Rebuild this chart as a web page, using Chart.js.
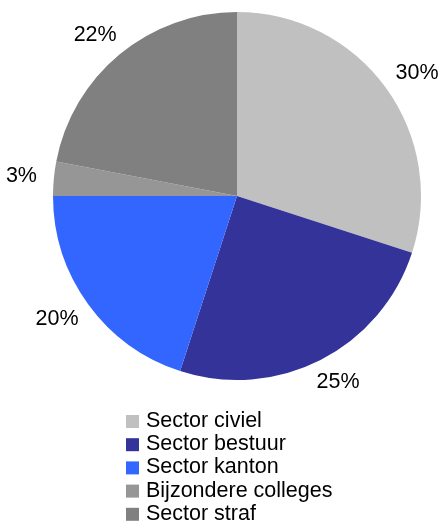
<!DOCTYPE html>
<html>
<head>
<meta charset="utf-8">
<script src="https://cdn.jsdelivr.net/npm/chart.js@4"></script>
<style>
  html, body { margin: 0; padding: 0; background: #fff; }
  canvas { display: block; }
</style>
</head>
<body>
<canvas id="pie" width="438" height="525"></canvas>
<script>
  // Verdeling per sector
  const sectors = ['Sector civiel', 'Sector bestuur', 'Sector kanton', 'Bijzondere colleges', 'Sector straf'];
  const shares = [30, 25, 20, 3, 22];
  const sliceColors = ['#c0c0c0', '#333399', '#3366ff', '#969696', '#808080'];

  const fontFamily = '"Liberation Sans", Arial, sans-serif';

  // Percentage labels just outside each slice
  const outsideLabels = {
    id: 'outsideLabels',
    afterDatasetsDraw(chart) {
      const ctx = chart.ctx;
      const meta = chart.getDatasetMeta(0);
      ctx.save();
      ctx.font = '21.5px ' + fontFamily;
      ctx.fillStyle = '#000';
      ctx.textAlign = 'center';
      ctx.textBaseline = 'middle';
      meta.data.forEach((arc, i) => {
        const p = arc.getProps(['x', 'y', 'startAngle', 'endAngle', 'outerRadius'], true);
        const mid = (p.startAngle + p.endAngle) / 2;
        const text = shares[i] + '%';
        const w = ctx.measureText(text).width;
        const h = 16;
        const r0 = p.outerRadius + 17;
        const cx = p.x + Math.cos(mid) * (r0 + w / 2);
        const cy = p.y + Math.sin(mid) * (r0 + h / 2);
        ctx.fillText(text, cx, cy);
      });
      ctx.restore();
    }
  };

  // Vertical legend under the pie
  const stackedLegend = {
    id: 'stackedLegend',
    afterDraw(chart) {
      const ctx = chart.ctx;
      const ds = chart.data.datasets[0];
      ctx.save();
      ctx.font = '21.5px ' + fontFamily;
      ctx.textBaseline = 'middle';
      chart.data.labels.forEach((label, i) => {
        const y = 421 + i * 23.2;
        ctx.fillStyle = ds.backgroundColor[i];
        ctx.fillRect(126, y - 6, 13, 13);
        ctx.fillStyle = '#000';
        ctx.fillText(label, 146, y);
      });
      ctx.restore();
    }
  };

  const pieCtx = document.getElementById('pie').getContext('2d');
  const pieChart = new Chart(pieCtx, {
    type: 'pie',
    data: {
      labels: sectors,
      datasets: [{
        data: shares,
        backgroundColor: sliceColors,
        borderWidth: 0,
        hoverOffset: 0
      }]
    },
    options: {
      responsive: false,
      animation: false,
      layout: {
        padding: { left: 53, top: 12, right: 17, bottom: 145 }
      },
      plugins: {
        legend: { display: false },
        tooltip: { enabled: false }
      }
    },
    plugins: [outsideLabels, stackedLegend]
  });
</script>
</body>
</html>
